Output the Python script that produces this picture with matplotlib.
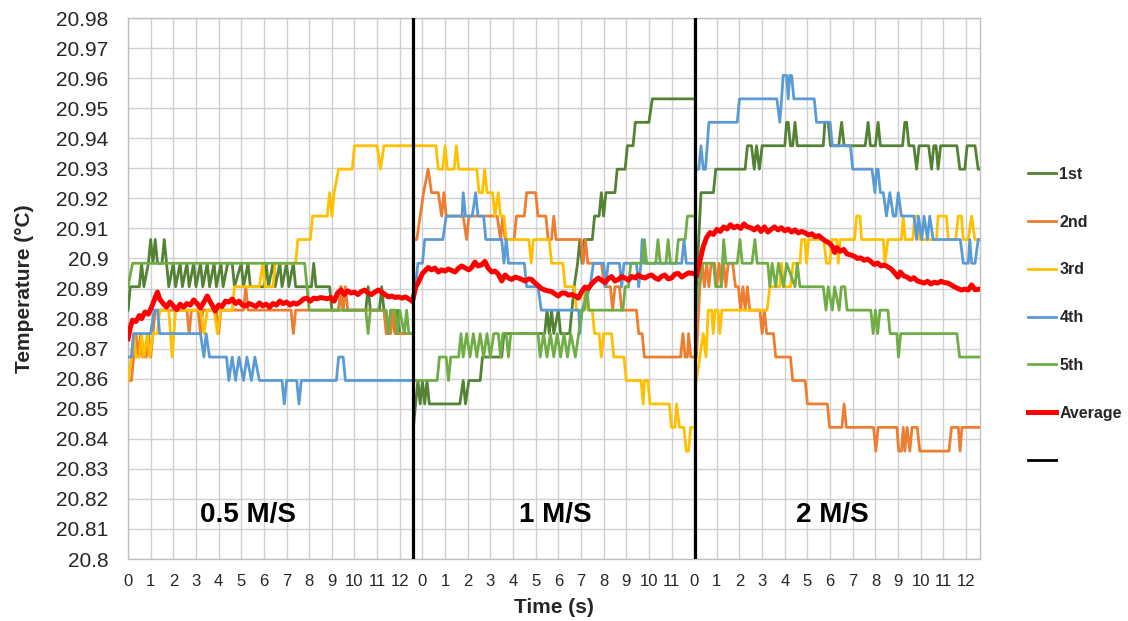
import matplotlib
matplotlib.use("Agg")
import matplotlib.pyplot as plt
from matplotlib.lines import Line2D

plt.rcParams["font.family"] = ["Liberation Sans", "DejaVu Sans"]

# time (s, from start of each run) and temperature (degC) break points
s1_1st = [(0, 20.8828), (0.1, 20.8906), (0.5, 20.8906), (0.6, 20.8984), (0.7, 20.8906), (0.9, 20.8984),
          (1.0, 20.9063), (1.1, 20.8984), (1.2, 20.9063), (1.3, 20.8984), (1.5, 20.8984), (1.6, 20.9063),
          (1.7, 20.8984), (1.8, 20.8906), (2.0, 20.8984), (2.1, 20.8906), (2.3, 20.8984), (2.4, 20.8906),
          (2.6, 20.8984), (2.7, 20.8906), (2.9, 20.8984), (3.0, 20.8906), (3.2, 20.8984), (3.3, 20.8906),
          (3.5, 20.8984), (3.6, 20.8906), (3.8, 20.8984), (3.9, 20.8906), (4.1, 20.8984), (4.2, 20.8906),
          (4.4, 20.8984), (4.6, 20.8984), (4.7, 20.8906), (5.0, 20.8984), (5.1, 20.8906), (5.3, 20.8984),
          (5.4, 20.8906), (6.0, 20.8906), (6.1, 20.8984), (6.2, 20.8906), (6.4, 20.8984), (6.5, 20.8906),
          (6.7, 20.8984), (6.8, 20.8906), (7.0, 20.8984), (7.1, 20.8906), (7.3, 20.8984), (7.4, 20.8906),
          (8.1, 20.8906), (8.2, 20.8984), (8.3, 20.8906), (8.9, 20.8906), (9.0, 20.8828), (9.3, 20.8828),
          (9.4, 20.8906), (9.5, 20.8828), (10.5, 20.8828), (10.6, 20.8906), (10.7, 20.8828), (11.1, 20.8828),
          (11.2, 20.8906), (11.3, 20.8828), (11.5, 20.875), (11.6, 20.8828), (11.8, 20.875), (11.9, 20.8828),
          (12.0, 20.875), (12.5, 20.875)]
s1_2nd = [(0, 20.8594), (0.15, 20.8594), (0.25, 20.8672), (0.35, 20.875), (0.45, 20.8672), (0.55, 20.875),
          (0.65, 20.8672), (0.8, 20.8672), (0.9, 20.875), (1.0, 20.8672), (1.1, 20.875), (1.2, 20.8828),
          (2.6, 20.8828), (2.7, 20.875), (2.8, 20.8828), (3.1, 20.8828), (3.2, 20.875), (3.3, 20.8828),
          (3.9, 20.8828), (4.0, 20.875), (4.1, 20.8828), (5.1, 20.8828), (5.2, 20.8906), (5.3, 20.8828),
          (7.2, 20.8828), (7.3, 20.875), (7.4, 20.8828), (9.3, 20.8828), (9.4, 20.8906), (9.5, 20.8828),
          (9.6, 20.8906), (9.7, 20.8828), (11.3, 20.8828), (11.4, 20.875), (11.6, 20.875), (11.7, 20.8828),
          (11.8, 20.875), (12.5, 20.875)]
s1_3rd = [(0, 20.8594), (0.15, 20.8672), (0.25, 20.875), (0.35, 20.8672), (0.5, 20.8672), (0.6, 20.875),
          (0.7, 20.8672), (0.85, 20.875), (0.95, 20.8672), (1.1, 20.875), (1.3, 20.875), (1.4, 20.8828),
          (1.8, 20.8828), (1.95, 20.8672), (2.1, 20.8828), (3.2, 20.8828), (3.35, 20.875), (3.5, 20.8828),
          (3.8, 20.8828), (3.95, 20.875), (4.1, 20.8828), (4.6, 20.8828), (4.7, 20.8906), (5.8, 20.8906),
          (5.95, 20.8984), (6.05, 20.8906), (6.4, 20.8906), (6.5, 20.8984), (7.4, 20.8984), (7.5, 20.9063),
          (8.05, 20.9063), (8.15, 20.9141), (8.8, 20.9141), (8.9, 20.9219), (9.0, 20.9141), (9.1, 20.9219),
          (9.3, 20.9297), (9.9, 20.9297), (10.0, 20.9375), (11.0, 20.9375), (11.15, 20.9297), (11.3, 20.9375),
          (12.5, 20.9375)]
s1_4th = [(0, 20.8672), (0.15, 20.8672), (0.25, 20.875), (1.0, 20.875), (1.15, 20.8828), (1.3, 20.8828),
          (1.4, 20.875), (3.2, 20.875), (3.35, 20.8672), (3.45, 20.875), (3.6, 20.8672), (4.35, 20.8672),
          (4.45, 20.8594), (4.6, 20.8672), (4.75, 20.8594), (4.9, 20.8672), (5.1, 20.8594), (5.25, 20.8672),
          (5.45, 20.8594), (5.6, 20.8672), (5.8, 20.8594), (6.8, 20.8594), (6.9, 20.8516), (7.0, 20.8594),
          (7.45, 20.8594), (7.55, 20.8516), (7.65, 20.8594), (9.2, 20.8594), (9.3, 20.8672), (9.5, 20.8672),
          (9.6, 20.8594), (12.5, 20.8594)]
s1_5th = [(0, 20.8906), (0.2, 20.8984), (7.8, 20.8984), (7.9, 20.8906), (8.0, 20.8828), (10.5, 20.8828),
          (10.6, 20.875), (10.7, 20.8828), (11.4, 20.8828), (11.5, 20.875), (11.6, 20.8828), (11.8, 20.8828),
          (11.9, 20.875), (12.0, 20.8828), (12.2, 20.875), (12.3, 20.8828), (12.4, 20.875), (12.5, 20.875)]
s1_avg = [(0, 20.8733), (0.1, 20.8770), (0.2, 20.8795), (0.35, 20.8790), (0.5, 20.8810), (0.6, 20.8800),
          (0.75, 20.8822), (0.9, 20.8815), (1.05, 20.8840), (1.2, 20.8870), (1.3, 20.8888), (1.4, 20.8865),
          (1.55, 20.8850), (1.7, 20.8838), (1.85, 20.8855), (2.0, 20.8842), (2.15, 20.8830), (2.3, 20.8848),
          (2.45, 20.8838), (2.6, 20.8850), (2.75, 20.8845), (2.9, 20.8862), (3.05, 20.8850), (3.2, 20.8835),
          (3.35, 20.8855), (3.5, 20.8875), (3.6, 20.8860), (3.75, 20.8840), (3.85, 20.8825), (4.0, 20.8845),
          (4.15, 20.8840), (4.3, 20.8858), (4.45, 20.8855), (4.6, 20.8865), (4.75, 20.8850), (4.9, 20.8858),
          (5.05, 20.8845), (5.2, 20.8842), (5.35, 20.8850), (5.5, 20.8845), (5.65, 20.8840), (5.8, 20.8852),
          (5.95, 20.8842), (6.1, 20.8848), (6.25, 20.8838), (6.4, 20.8850), (6.55, 20.8845), (6.7, 20.8858),
          (6.85, 20.8850), (7.0, 20.8855), (7.15, 20.8845), (7.3, 20.8852), (7.45, 20.8848), (7.6, 20.8855),
          (7.75, 20.8865), (7.9, 20.8868), (8.05, 20.8858), (8.2, 20.8868), (8.35, 20.8866), (8.5, 20.8870),
          (8.65, 20.8868), (8.8, 20.8866), (8.95, 20.8870), (9.1, 20.8858), (9.25, 20.8885), (9.4, 20.8895),
          (9.55, 20.8880), (9.7, 20.8892), (9.85, 20.8885), (10.0, 20.8888), (10.15, 20.8880), (10.3, 20.8890),
          (10.45, 20.8895), (10.6, 20.8885), (10.75, 20.8880), (10.9, 20.8888), (11.05, 20.8895), (11.2, 20.8888),
          (11.35, 20.8880), (11.5, 20.8872), (11.65, 20.8875), (11.8, 20.8870), (11.95, 20.8872), (12.1, 20.8868),
          (12.25, 20.8872), (12.4, 20.8865), (12.5, 20.8860)]

s2_1st = [(0, 20.8438), (0.1, 20.8516), (0.2, 20.8594), (0.3, 20.8516), (0.4, 20.8594), (0.5, 20.8516),
          (0.6, 20.8594), (0.7, 20.8516), (2.05, 20.8516), (2.2, 20.8594), (2.3, 20.8516), (2.45, 20.8594),
          (2.95, 20.8594), (3.05, 20.8672), (3.9, 20.8672), (4.0, 20.875), (5.8, 20.875), (5.9, 20.8828),
          (6.0, 20.875), (6.1, 20.8828), (6.2, 20.875), (6.4, 20.8828), (6.5, 20.875), (6.9, 20.875),
          (7.0, 20.8828), (7.1, 20.8906), (7.25, 20.8984), (7.35, 20.9063), (7.45, 20.8984), (7.55, 20.9063),
          (7.9, 20.9063), (8.0, 20.9141), (8.2, 20.9141), (8.3, 20.9219), (8.4, 20.9141), (8.5, 20.9219),
          (8.9, 20.9219), (9.0, 20.9297), (9.35, 20.9297), (9.45, 20.9375), (9.7, 20.9375), (9.8, 20.9453),
          (10.4, 20.9453), (10.55, 20.9531), (12.35, 20.9531)]
s2_2nd = [(0, 20.9063), (0.15, 20.9063), (0.3, 20.9141), (0.45, 20.9219), (0.65, 20.9297), (0.8, 20.9219),
          (1.1, 20.9219), (1.25, 20.9141), (1.35, 20.9219), (1.45, 20.9141), (2.2, 20.9141), (2.35, 20.9063),
          (2.45, 20.9141), (3.7, 20.9141), (3.85, 20.9063), (3.95, 20.9141), (4.05, 20.9063), (4.45, 20.9063),
          (4.55, 20.9141), (4.9, 20.9141), (5.0, 20.9219), (5.4, 20.9219), (5.5, 20.9141), (5.85, 20.9141),
          (5.95, 20.9063), (6.1, 20.9063), (6.2, 20.9141), (6.3, 20.9063), (7.4, 20.9063), (7.5, 20.8984),
          (7.6, 20.9063), (7.7, 20.8984), (8.3, 20.8984), (8.45, 20.8906), (8.7, 20.8906), (8.8, 20.8828),
          (8.9, 20.8906), (9.1, 20.8906), (9.2, 20.8828), (9.85, 20.8828), (9.95, 20.875), (10.1, 20.875),
          (10.2, 20.8672), (11.8, 20.8672), (11.9, 20.875), (12.0, 20.8672), (12.1, 20.8672), (12.15, 20.875),
          (12.25, 20.8672), (12.35, 20.8672)]
s2_3rd = [(0, 20.9375), (1.0, 20.9375), (1.1, 20.9297), (1.3, 20.9297), (1.4, 20.9375), (1.5, 20.9297),
          (1.8, 20.9297), (1.9, 20.9375), (2.0, 20.9297), (2.8, 20.9297), (2.9, 20.9219), (3.05, 20.9219),
          (3.15, 20.9297), (3.25, 20.9219), (3.5, 20.9219), (3.6, 20.9141), (3.75, 20.9219), (3.85, 20.9141),
          (4.0, 20.9141), (4.1, 20.9063), (5.1, 20.9063), (5.2, 20.8984), (5.3, 20.9063), (6.0, 20.9063),
          (6.1, 20.8984), (6.6, 20.8984), (6.7, 20.8906), (7.1, 20.8906), (7.2, 20.8828), (7.5, 20.8828),
          (7.6, 20.8906), (7.7, 20.8828), (7.9, 20.8828), (8.0, 20.875), (8.2, 20.875), (8.3, 20.8672),
          (8.4, 20.875), (8.75, 20.875), (8.85, 20.8672), (9.3, 20.8672), (9.4, 20.8594), (10.05, 20.8594),
          (10.15, 20.8516), (10.2, 20.8594), (10.35, 20.8594), (10.45, 20.8516), (11.3, 20.8516), (11.4, 20.8438),
          (11.55, 20.8438), (11.62, 20.8516), (11.75, 20.8438), (11.95, 20.8438), (12.05, 20.8359),
          (12.15, 20.8359), (12.25, 20.8438), (12.35, 20.8438)]
s2_4th = [(0, 20.8906), (0.1, 20.8906), (0.2, 20.8984), (0.4, 20.8984), (0.5, 20.9063), (1.3, 20.9063),
          (1.45, 20.9141), (2.15, 20.9141), (2.2, 20.9219), (2.3, 20.9141), (2.6, 20.9141), (2.75, 20.9219),
          (2.85, 20.9141), (3.1, 20.9141), (3.2, 20.9063), (3.9, 20.9063), (4.0, 20.8984), (4.1, 20.9063),
          (4.2, 20.8984), (4.9, 20.8984), (5.0, 20.8906), (5.5, 20.8906), (5.65, 20.8828), (7.3, 20.8828),
          (7.35, 20.875), (7.45, 20.8828), (7.8, 20.8906), (7.95, 20.8984), (8.4, 20.8984), (8.5, 20.8906),
          (8.6, 20.8984), (9.1, 20.8984), (9.2, 20.8906), (9.3, 20.8984), (9.85, 20.8984), (9.95, 20.8906),
          (10.05, 20.8984), (10.1, 20.9063), (10.2, 20.8984), (11.85, 20.8984), (11.95, 20.9063),
          (12.05, 20.8984), (12.35, 20.8984)]
s2_5th = [(0, 20.8594), (1.05, 20.8594), (1.15, 20.8672), (1.45, 20.8672), (1.55, 20.8594), (1.65, 20.8672),
          (2.0, 20.8672), (2.1, 20.875), (2.2, 20.8672), (2.35, 20.875), (2.5, 20.8672), (2.65, 20.875),
          (2.8, 20.8672), (2.95, 20.875), (3.1, 20.8672), (3.25, 20.875), (3.4, 20.8672), (3.55, 20.875),
          (3.75, 20.875), (3.85, 20.8672), (3.95, 20.875), (4.1, 20.875), (4.2, 20.8672), (4.3, 20.875),
          (5.5, 20.875), (5.6, 20.8672), (5.75, 20.875), (5.9, 20.8672), (6.05, 20.875), (6.2, 20.8672),
          (6.35, 20.875), (6.5, 20.8672), (6.65, 20.875), (6.8, 20.8672), (6.95, 20.875), (7.15, 20.8672),
          (7.3, 20.875), (7.45, 20.8828), (7.55, 20.8828), (7.65, 20.8906), (7.75, 20.8828), (9.25, 20.8828),
          (9.35, 20.8906), (9.5, 20.8906), (9.6, 20.8984), (10.1, 20.8984), (10.2, 20.9063), (10.3, 20.8984),
          (10.7, 20.8984), (10.8, 20.9063), (10.9, 20.8984), (11.15, 20.8984), (11.25, 20.9063),
          (11.35, 20.8984), (11.6, 20.8984), (11.7, 20.9063), (12.0, 20.9063), (12.1, 20.9141), (12.35, 20.9141)]
s2_avg = [(0, 20.8870), (0.1, 20.8905), (0.22, 20.8920), (0.4, 20.8950), (0.55, 20.8962), (0.66, 20.8970),
          (0.8, 20.8962), (0.95, 20.8968), (1.1, 20.8955), (1.25, 20.8962), (1.4, 20.8958), (1.54, 20.8965),
          (1.7, 20.8960), (1.84, 20.8955), (2.0, 20.8968), (2.13, 20.8975), (2.3, 20.8968), (2.45, 20.8962),
          (2.57, 20.8970), (2.72, 20.8988), (2.85, 20.8975), (3.0, 20.8978), (3.16, 20.8990), (3.3, 20.8968),
          (3.46, 20.8955), (3.6, 20.8958), (3.75, 20.8948), (3.9, 20.8925), (4.05, 20.8945), (4.2, 20.8935),
          (4.34, 20.8930), (4.5, 20.8938), (4.63, 20.8935), (4.8, 20.8930), (4.93, 20.8925), (5.1, 20.8932),
          (5.22, 20.8930), (5.35, 20.8920), (5.5, 20.8910), (5.65, 20.8900), (5.81, 20.8895), (5.95, 20.8892),
          (6.1, 20.8890), (6.25, 20.8882), (6.4, 20.8875), (6.55, 20.8885), (6.7, 20.8885), (6.85, 20.8878),
          (7.0, 20.8880), (7.15, 20.8875), (7.28, 20.8868), (7.45, 20.8892), (7.58, 20.8905), (7.72, 20.8900),
          (7.87, 20.8915), (8.0, 20.8925), (8.17, 20.8935), (8.3, 20.8928), (8.46, 20.8920), (8.6, 20.8932),
          (8.75, 20.8940), (8.9, 20.8925), (9.05, 20.8930), (9.2, 20.8940), (9.34, 20.8935), (9.5, 20.8928),
          (9.64, 20.8940), (9.8, 20.8935), (9.93, 20.8945), (10.08, 20.8938), (10.23, 20.8935), (10.38, 20.8942),
          (10.52, 20.8945), (10.68, 20.8935), (10.82, 20.8930), (10.95, 20.8940), (11.1, 20.8945),
          (11.25, 20.8932), (11.4, 20.8935), (11.55, 20.8948), (11.7, 20.8950), (11.85, 20.8938),
          (11.99, 20.8945), (12.15, 20.8952), (12.35, 20.8950)]

s3_1st = [(0, 20.8906), (0.1, 20.9063), (0.2, 20.9219), (0.75, 20.9219), (0.85, 20.9297), (2.15, 20.9297),
          (2.25, 20.9375), (2.43, 20.9375), (2.55, 20.9297), (2.65, 20.9375), (2.78, 20.9297), (2.9, 20.9375),
          (3.9, 20.9375), (3.98, 20.9453), (4.05, 20.9453), (4.15, 20.9375), (4.25, 20.9375), (4.35, 20.9453),
          (4.45, 20.9375), (5.6, 20.9375), (5.67, 20.9453), (5.82, 20.9453), (5.92, 20.9375), (6.28, 20.9375),
          (6.41, 20.9453), (6.52, 20.9375), (7.45, 20.9375), (7.58, 20.9453), (7.68, 20.9375), (7.9, 20.9375),
          (8.02, 20.9453), (8.12, 20.9375), (9.1, 20.9375), (9.2, 20.9453), (9.28, 20.9453), (9.38, 20.9375),
          (9.6, 20.9375), (9.72, 20.9297), (9.83, 20.9375), (10.25, 20.9375), (10.38, 20.9297), (10.48, 20.9375),
          (10.58, 20.9375), (10.67, 20.9297), (10.78, 20.9375), (11.5, 20.9375), (11.63, 20.9297),
          (11.85, 20.9297), (11.95, 20.9375), (12.3, 20.9375), (12.44, 20.9297), (12.5, 20.9297)]
s3_2nd = [(0, 20.8672), (0.15, 20.8906), (0.25, 20.8984), (0.35, 20.8906), (0.45, 20.8984), (0.55, 20.8906),
          (0.65, 20.8984), (0.8, 20.8984), (0.9, 20.8906), (1.0, 20.8984), (1.1, 20.8906), (1.2, 20.8984),
          (1.3, 20.8906), (1.4, 20.8984), (1.6, 20.8984), (1.72, 20.8906), (1.85, 20.8906), (1.95, 20.8828),
          (2.05, 20.8906), (2.15, 20.8828), (2.25, 20.8906), (2.35, 20.8828), (2.8, 20.8828), (2.9, 20.875),
          (3.0, 20.8828), (3.1, 20.875), (3.4, 20.875), (3.5, 20.8672), (4.15, 20.8672), (4.25, 20.8594),
          (4.8, 20.8594), (4.9, 20.8516), (5.78, 20.8516), (5.88, 20.8438), (6.42, 20.8438), (6.52, 20.8516),
          (6.62, 20.8438), (7.82, 20.8438), (7.92, 20.8359), (8.02, 20.8438), (8.85, 20.8438), (8.93, 20.8359),
          (9.05, 20.8359), (9.13, 20.8438), (9.2, 20.8359), (9.3, 20.8438), (9.42, 20.8359), (9.52, 20.8438),
          (9.75, 20.8438), (9.86, 20.8359), (11.15, 20.8359), (11.26, 20.8438), (11.56, 20.8438),
          (11.64, 20.8359), (11.72, 20.8438), (12.5, 20.8438)]
s3_3rd = [(0, 20.8594), (0.15, 20.8672), (0.3, 20.875), (0.42, 20.8672), (0.52, 20.8828), (0.67, 20.8828),
          (0.74, 20.875), (0.82, 20.8828), (0.95, 20.8828), (1.03, 20.875), (1.12, 20.8828), (3.12, 20.8828),
          (3.24, 20.8906), (3.68, 20.8906), (3.76, 20.8984), (3.84, 20.8906), (4.15, 20.8906), (4.27, 20.8984),
          (4.57, 20.8984), (4.64, 20.9063), (4.79, 20.9063), (4.86, 20.8984), (4.95, 20.9063), (5.62, 20.9063),
          (5.74, 20.8984), (5.89, 20.8984), (5.97, 20.9063), (6.19, 20.9063), (6.26, 20.8984), (6.35, 20.9063),
          (6.98, 20.9063), (7.07, 20.9141), (7.22, 20.9141), (7.29, 20.9063), (8.25, 20.9063), (8.32, 20.8984),
          (8.45, 20.9063), (9.05, 20.9063), (9.13, 20.9141), (9.22, 20.9063), (9.55, 20.9063), (9.64, 20.9141),
          (9.78, 20.9141), (9.86, 20.9063), (10.6, 20.9063), (10.67, 20.9141), (11.04, 20.9141),
          (11.12, 20.9063), (11.45, 20.9063), (11.56, 20.9141), (11.7, 20.9141), (11.78, 20.9063),
          (12.0, 20.9063), (12.15, 20.9141), (12.29, 20.9063), (12.5, 20.9063)]
s3_4th = [(0, 20.9297), (0.1, 20.9297), (0.2, 20.9375), (0.3, 20.9297), (0.4, 20.9297), (0.55, 20.9453),
          (1.8, 20.9453), (1.9, 20.9531), (3.55, 20.9531), (3.68, 20.9453), (3.76, 20.9531), (3.83, 20.9609),
          (3.98, 20.9609), (4.05, 20.9531), (4.12, 20.9609), (4.2, 20.9609), (4.3, 20.9531), (5.2, 20.9531),
          (5.3, 20.9453), (5.9, 20.9453), (6.0, 20.9375), (6.8, 20.9375), (6.9, 20.9297), (7.75, 20.9297),
          (7.88, 20.9219), (7.95, 20.9297), (8.02, 20.9297), (8.12, 20.9219), (8.25, 20.9219), (8.39, 20.9141),
          (8.54, 20.9219), (8.69, 20.9141), (8.8, 20.9141), (8.91, 20.9219), (9.05, 20.9141), (9.6, 20.9141),
          (9.72, 20.9063), (9.8, 20.9141), (9.95, 20.9063), (10.05, 20.9141), (10.2, 20.9063), (10.3, 20.9141),
          (10.45, 20.9063), (11.65, 20.9063), (11.78, 20.8984), (12.0, 20.8984), (12.07, 20.9063),
          (12.15, 20.8984), (12.3, 20.8984), (12.44, 20.9063), (12.5, 20.9063)]
s3_5th = [(0, 20.8828), (0.1, 20.8906), (0.25, 20.8984), (0.75, 20.8984), (0.85, 20.8906), (1.1, 20.8906),
          (1.2, 20.9063), (1.3, 20.8984), (1.8, 20.8984), (1.92, 20.9063), (2.02, 20.8984), (2.45, 20.8984),
          (2.58, 20.9063), (2.68, 20.8984), (3.15, 20.8984), (3.24, 20.8906), (3.34, 20.8984), (3.5, 20.8906),
          (3.62, 20.8984), (3.85, 20.8906), (3.98, 20.8984), (4.35, 20.8906), (4.45, 20.8984), (4.57, 20.8906),
          (5.6, 20.8906), (5.72, 20.8828), (5.82, 20.8906), (6.0, 20.8828), (6.1, 20.8906), (6.3, 20.8828),
          (6.4, 20.8906), (6.55, 20.8906), (6.65, 20.8828), (7.7, 20.8828), (7.8, 20.875), (7.9, 20.8828),
          (8.0, 20.875), (8.1, 20.8828), (8.45, 20.8828), (8.55, 20.875), (8.85, 20.875), (8.92, 20.8672),
          (9.02, 20.875), (11.5, 20.875), (11.62, 20.8672), (12.5, 20.8672)]
s3_avg = [(0, 20.8942), (0.15, 20.8990), (0.3, 20.9040), (0.45, 20.9070), (0.6, 20.9086), (0.75, 20.9080),
          (0.9, 20.9097), (1.05, 20.9090), (1.2, 20.9105), (1.35, 20.9098), (1.5, 20.9112), (1.65, 20.9102),
          (1.8, 20.9108), (1.95, 20.9100), (2.1, 20.9115), (2.25, 20.9105), (2.4, 20.9102), (2.55, 20.9095),
          (2.7, 20.9105), (2.85, 20.9090), (3.0, 20.9105), (3.15, 20.9088), (3.3, 20.9097), (3.45, 20.9105),
          (3.6, 20.9095), (3.75, 20.9102), (3.9, 20.9092), (4.05, 20.9098), (4.2, 20.9088), (4.35, 20.9095),
          (4.5, 20.9085), (4.65, 20.9090), (4.8, 20.9085), (4.95, 20.9078), (5.1, 20.9082), (5.25, 20.9072),
          (5.4, 20.9076), (5.55, 20.9066), (5.7, 20.9058), (5.85, 20.9052), (6.0, 20.9040), (6.1, 20.9020),
          (6.2, 20.9036), (6.35, 20.9024), (6.5, 20.9030), (6.65, 20.9015), (6.8, 20.9012), (6.95, 20.9008),
          (7.1, 20.9000), (7.25, 20.9002), (7.4, 20.8994), (7.55, 20.8998), (7.7, 20.8990), (7.85, 20.8980),
          (8.0, 20.8985), (8.15, 20.8975), (8.3, 20.8978), (8.45, 20.8972), (8.6, 20.8965), (8.75, 20.8952),
          (8.9, 20.8938), (9.0, 20.8955), (9.15, 20.8942), (9.3, 20.8938), (9.45, 20.8930), (9.6, 20.8936),
          (9.75, 20.8925), (9.9, 20.8922), (10.05, 20.8918), (10.2, 20.8924), (10.35, 20.8915), (10.5, 20.8921),
          (10.65, 20.8918), (10.8, 20.8924), (10.95, 20.8920), (11.1, 20.8918), (11.25, 20.8912), (11.4, 20.8905),
          (11.55, 20.8900), (11.7, 20.8895), (11.85, 20.8898), (12.0, 20.8895), (12.15, 20.8912),
          (12.3, 20.8896), (12.5, 20.8898)]

SERIES = ["1st", "2nd", "3rd", "4th", "5th", "Average"]
COLORS = ["#548235", "#ED7D31", "#FFC000", "#5B9BD5", "#70AD47", "#FF0000"]
WIDTHS = [2.0, 2.0, 2.0, 2.0, 2.0, 3.6]
RUNS = [
    [s1_1st, s1_2nd, s1_3rd, s1_4th, s1_5th, s1_avg],
    [s2_1st, s2_2nd, s2_3rd, s2_4th, s2_5th, s2_avg],
    [s3_1st, s3_2nd, s3_3rd, s3_4th, s3_5th, s3_avg],
]
RUN_START = [0, 12.6, 25.1]
RUN_NAMES = ["0.5 M/S", "1 M/S", "2 M/S"]
RUN_NAME_X = [5.3, 18.85, 31.1]
DIVIDERS = [12.57, 25.04]
TICK_LABELS = [str(i) for i in range(13)] + [str(i) for i in range(12)] + [str(i) for i in range(13)]

TEXT = "#262626"

fig = plt.figure(figsize=(11.28, 6.21), dpi=100)
ax = fig.add_axes([0.1135, 0.0998, 0.7553, 0.8712])

for k, name in enumerate(SERIES):
    for run, start in zip(RUNS, RUN_START):
        pts = run[k]
        ax.plot([start + t for t, _ in pts], [v for _, v in pts],
                color=COLORS[k], lw=WIDTHS[k], solid_joinstyle="round", zorder=3 + k)

for x in DIVIDERS:
    ax.plot([x, x], [20.8, 20.98], color="black", lw=2.3, zorder=10)

for name, x in zip(RUN_NAMES, RUN_NAME_X):
    ax.text(x, 20.8145, name, ha="center", va="center", fontsize=20, fontweight="bold", color="black")

ax.set_xlim(0, 37.62)
ax.set_ylim(20.8, 20.98)
ax.set_xticks(range(len(TICK_LABELS)))
ax.set_xticklabels(TICK_LABELS)
yticks = [round(20.8 + 0.01 * i, 2) for i in range(19)]
ax.set_yticks(yticks)
ax.set_yticklabels([f"{v:.2f}".rstrip("0") for v in yticks])
ax.tick_params(axis="x", length=0, pad=11, labelsize=12, labelcolor=TEXT)
ax.tick_params(axis="y", length=0, pad=14, labelsize=15, labelcolor=TEXT)
ax.grid(True, color="#d0d0d0", lw=1.0, zorder=0)
ax.set_axisbelow(True)
for sp in ax.spines.values():
    sp.set_color("#c0c0c0")
    sp.set_linewidth(1.0)

ax.set_xlabel("Time (s)", fontsize=15, fontweight="bold", color=TEXT, labelpad=6)
ax.set_ylabel("Temperature (\u00b0C)", fontsize=15, fontweight="bold", color=TEXT, labelpad=16)

handles = [Line2D([], [], color=c, lw=w) for c, w in zip(COLORS, WIDTHS)]
handles.append(Line2D([], [], color="black", lw=2.0))
labels = SERIES + [""]
leg = fig.legend(handles, labels, loc="center left", bbox_to_anchor=(0.9045, 0.4884),
                 frameon=False, borderpad=0, handlelength=1.75, handletextpad=0.2,
                 labelspacing=2.05, prop={"size": 11.5, "weight": "bold"})
for txt in leg.get_texts():
    txt.set_color(TEXT)

fig.savefig("out.png", dpi=100)
